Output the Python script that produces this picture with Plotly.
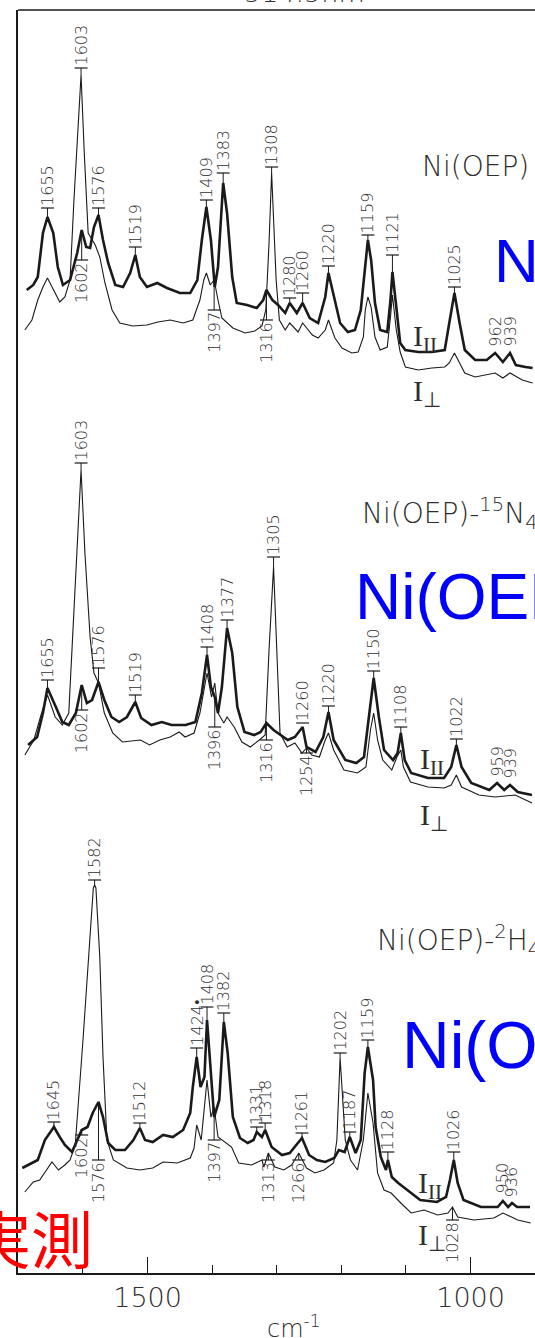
import numpy as np
import plotly.graph_objects as go

# ---------------------------------------------------------------
# Resonance Raman spectra of Ni(OEP) and two isotopomers,
# parallel (I_par, heavy pen) and perpendicular (I_perp, light pen).
# Each spectrum: (wavenumber / cm-1, intensity in arbitrary units)
# ---------------------------------------------------------------
TOP_PAR = [
    (1687, 113), (1677, 118), (1670, 126), (1662, 170), (1655, 186), (1646, 170),
    (1639, 136), (1631, 118), (1620, 123), (1609, 150), (1602, 173), (1595, 156),
    (1589, 155), (1583, 176), (1576, 188), (1569, 163), (1561, 140), (1550, 118),
    (1538, 116), (1527, 130), (1519, 148), (1512, 126), (1501, 116), (1485, 120),
    (1470, 115), (1450, 110), (1434, 110), (1423, 123), (1416, 163), (1409, 196),
    (1402, 163), (1396, 116), (1391, 136), (1383, 220), (1377, 190), (1369, 126),
    (1362, 100), (1346, 98), (1331, 95), (1321, 103), (1316, 113), (1307, 103),
    (1298, 98), (1287, 90), (1280, 100), (1269, 90), (1260, 100), (1249, 85),
    (1236, 80), (1225, 106), (1220, 130), (1210, 103), (1202, 80), (1190, 71),
    (1179, 73), (1170, 93), (1164, 133), (1159, 163), (1154, 143), (1148, 100),
    (1140, 73), (1129, 71), (1124, 103), (1121, 131), (1115, 96), (1109, 60),
    (1101, 53), (1081, 51), (1060, 51), (1040, 53), (1033, 80), (1025, 110),
    (1017, 80), (1009, 53), (993, 43), (975, 43), (962, 50), (950, 41),
    (939, 50), (930, 38), (915, 36), (904, 35),
]
TOP_PERP = [
    (1690, 73), (1679, 83), (1670, 103), (1662, 116), (1655, 125), (1646, 113),
    (1636, 101), (1628, 106), (1620, 123), (1614, 203), (1603, 328), (1598, 250),
    (1592, 170), (1581, 158), (1574, 146), (1566, 120), (1555, 93), (1543, 80),
    (1523, 77), (1501, 78), (1484, 81), (1465, 83), (1445, 80), (1430, 83),
    (1419, 103), (1413, 123), (1409, 130), (1403, 118), (1397, 123), (1391, 103),
    (1385, 85), (1368, 75), (1349, 70), (1334, 72), (1323, 77), (1317, 93),
    (1312, 160), (1308, 230), (1304, 160), (1301, 123), (1296, 83), (1287, 73),
    (1280, 80), (1267, 71), (1260, 80), (1245, 68), (1236, 65), (1225, 73),
    (1220, 83), (1210, 65), (1199, 55), (1184, 50), (1174, 51), (1166, 66),
    (1163, 93), (1159, 106), (1154, 96), (1148, 66), (1140, 53), (1129, 56),
    (1124, 86), (1121, 108), (1115, 73), (1109, 51), (1101, 36), (1081, 33),
    (1060, 35), (1040, 36), (1033, 40), (1025, 50), (1017, 40), (1009, 30),
    (993, 26), (962, 30), (950, 25), (939, 30), (920, 23), (904, 20),
]
MID_PAR = [
    (1685, 88), (1671, 96), (1662, 120), (1655, 145), (1642, 126), (1632, 111),
    (1622, 108), (1611, 120), (1602, 148), (1594, 130), (1586, 133), (1576, 151),
    (1567, 133), (1556, 116), (1544, 111), (1532, 116), (1519, 131), (1510, 115),
    (1494, 108), (1478, 111), (1463, 108), (1441, 108), (1426, 111), (1416, 140),
    (1408, 178), (1402, 146), (1396, 136), (1391, 120), (1385, 146), (1377, 205),
    (1369, 180), (1361, 126), (1350, 101), (1335, 98), (1325, 101), (1316, 110),
    (1305, 103), (1294, 98), (1283, 93), (1272, 96), (1260, 106), (1254, 86),
    (1240, 81), (1228, 96), (1220, 121), (1212, 93), (1194, 73), (1177, 70),
    (1165, 76), (1158, 113), (1150, 155), (1142, 116), (1134, 83), (1120, 73),
    (1113, 80), (1108, 100), (1102, 73), (1092, 60), (1066, 55), (1041, 55),
    (1030, 66), (1022, 88), (1014, 66), (999, 50), (971, 43), (959, 50),
    (948, 43), (939, 48), (927, 41), (905, 38),
]
MID_PERP = [
    (1690, 78), (1676, 93), (1665, 118), (1655, 138), (1643, 116), (1632, 108),
    (1622, 120), (1615, 213), (1603, 363), (1597, 280), (1589, 196), (1583, 160),
    (1576, 150), (1567, 120), (1554, 100), (1539, 91), (1511, 93), (1497, 88),
    (1481, 93), (1465, 96), (1451, 101), (1442, 96), (1428, 100), (1419, 120),
    (1408, 160), (1401, 136), (1396, 150), (1391, 120), (1382, 110), (1377, 116),
    (1366, 106), (1354, 91), (1341, 86), (1327, 93), (1318, 98), (1312, 183),
    (1305, 266), (1300, 183), (1295, 100), (1284, 86), (1272, 90), (1261, 80),
    (1254, 85), (1246, 78), (1234, 76), (1225, 93), (1220, 100), (1212, 83),
    (1196, 63), (1175, 60), (1162, 66), (1155, 103), (1150, 120), (1144, 93),
    (1136, 73), (1122, 63), (1114, 76), (1108, 83), (1104, 66), (1093, 51),
    (1066, 46), (1041, 45), (1030, 48), (1022, 58), (1014, 46), (987, 38),
    (962, 36), (931, 38), (916, 33), (905, 30),
]
BOT_PAR = [
    (1694, 105), (1679, 110), (1670, 113), (1659, 133), (1645, 146), (1636, 136),
    (1628, 128), (1617, 121), (1608, 135), (1602, 143), (1593, 146), (1585, 160),
    (1576, 171), (1569, 156), (1561, 130), (1550, 123), (1535, 123), (1522, 133),
    (1512, 145), (1504, 133), (1492, 131), (1476, 138), (1461, 136), (1445, 143),
    (1434, 160), (1430, 186), (1424, 216), (1418, 186), (1412, 196), (1408, 253),
    (1402, 200), (1399, 170), (1397, 156), (1389, 173), (1382, 251), (1376, 220),
    (1368, 156), (1357, 135), (1345, 130), (1336, 133), (1331, 141), (1323, 136),
    (1318, 143), (1308, 126), (1292, 118), (1280, 120), (1272, 126), (1261, 135),
    (1250, 118), (1238, 113), (1225, 111), (1211, 115), (1204, 123), (1195, 121),
    (1187, 136), (1178, 120), (1170, 133), (1164, 200), (1159, 226), (1151, 193),
    (1147, 146), (1139, 116), (1131, 103), (1128, 113), (1122, 96), (1112, 90),
    (1098, 83), (1078, 73), (1052, 71), (1038, 76), (1032, 93), (1026, 113),
    (1020, 90), (1011, 73), (984, 66), (958, 66), (950, 72), (942, 66),
    (936, 70), (928, 66), (908, 66),
]
BOT_PERP = [
    (1690, 81), (1677, 91), (1667, 93), (1648, 111), (1638, 103), (1628, 108),
    (1620, 113), (1612, 128), (1600, 233), (1589, 333), (1584, 385), (1582, 388),
    (1580, 385), (1574, 316), (1569, 216), (1563, 133), (1553, 113), (1532, 105),
    (1512, 103), (1492, 105), (1476, 111), (1454, 110), (1434, 115), (1428, 125),
    (1424, 148), (1417, 133), (1408, 193), (1402, 156), (1397, 166), (1391, 136),
    (1380, 131), (1370, 126), (1359, 110), (1339, 108), (1323, 113), (1320, 106),
    (1313, 120), (1303, 106), (1289, 103), (1277, 108), (1266, 120), (1254, 105),
    (1241, 100), (1227, 103), (1212, 110), (1207, 133), (1202, 215), (1194, 133),
    (1186, 113), (1175, 103), (1166, 133), (1159, 180), (1151, 150), (1144, 100),
    (1134, 83), (1123, 80), (1108, 70), (1092, 60), (1072, 63), (1051, 58),
    (1035, 60), (1028, 66), (1020, 56), (995, 53), (964, 55), (950, 60),
    (927, 53), (907, 50),
]

# vertical offset of each stacked spectrum
OFFSET = {"top": 870, "mid": 440, "bot": 0}

# peak labels: (text, wavenumber, label level, side, spectrum, tick bar)
TOP_PEAKS = [
    ("1655", 1655, 195, "up", "par", True),
    ("1603", 1603, 335, "up", "perp", True),
    ("1576", 1576, 195, "up", "par", True),
    ("1519", 1519, 156, "up", "par", True),
    ("1409", 1409, 203, "up", "par", True),
    ("1383", 1383, 230, "up", "par", True),
    ("1308", 1308, 236, "up", "perp", True),
    ("1280", 1280, 105, "up", "par", True),
    ("1260", 1260, 110, "up", "par", True),
    ("1220", 1220, 137, "up", "par", True),
    ("1159", 1159, 168, "up", "par", True),
    ("1121", 1121, 148, "up", "par", True),
    ("1025", 1025, 116, "up", "par", True),
    ("962", 962, 54, "up", "par", False),
    ("939", 939, 54, "up", "par", False),
    ("1602", 1602, 143, "down", "par", True),
    ("1397", 1397, 93, "down", "perp", True),
    ("1316", 1316, 83, "down", "par", True),
]
MID_PEAKS = [
    ("1655", 1655, 153, "up", "par", True),
    ("1603", 1603, 370, "up", "perp", True),
    ("1576", 1576, 165, "up", "par", True),
    ("1519", 1519, 138, "up", "par", True),
    ("1408", 1408, 186, "up", "par", True),
    ("1377", 1377, 213, "up", "par", True),
    ("1305", 1305, 276, "up", "perp", True),
    ("1260", 1260, 110, "up", "par", True),
    ("1220", 1220, 127, "up", "par", True),
    ("1150", 1150, 162, "up", "par", True),
    ("1108", 1108, 106, "up", "par", True),
    ("1022", 1022, 94, "up", "par", True),
    ("959", 959, 54, "up", "par", False),
    ("939", 939, 52, "up", "par", False),
    ("1602", 1602, 123, "down", "par", True),
    ("1396", 1396, 106, "down", "par", True),
    ("1316", 1316, 93, "down", "par", True),
    ("1254", 1254, 80, "down", "perp", True),
]
BOT_PEAKS = [
    ("1645", 1645, 151, "up", "par", True),
    ("1582", 1582, 393, "up", "perp", True),
    ("1512", 1512, 150, "up", "par", True),
    ("1424\u2022", 1424, 225, "up", "par", True),
    ("1408", 1408, 266, "up", "par", True),
    ("1382", 1382, 260, "up", "par", True),
    ("1331", 1331, 146, "up", "par", True),
    ("1318", 1318, 150, "up", "par", True),
    ("1261", 1261, 140, "up", "par", True),
    ("1202", 1202, 220, "up", "perp", True),
    ("1187", 1187, 141, "up", "par", True),
    ("1159", 1159, 233, "up", "par", True),
    ("1128", 1128, 121, "up", "par", True),
    ("1026", 1026, 121, "up", "par", True),
    ("950", 950, 78, "up", "par", False),
    ("936", 936, 74, "up", "par", False),
    ("1602", 1602, 138, "down", "par", True),
    ("1576", 1576, 113, "down", "par", True),
    ("1397", 1397, 133, "down", "perp", True),
    ("1313", 1313, 113, "down", "perp", True),
    ("1266", 1266, 113, "down", "perp", True),
    ("1028", 1028, 53, "down", "perp", True),
]

PANELS = [
    ("top", TOP_PAR, TOP_PERP, TOP_PEAKS),
    ("mid", MID_PAR, MID_PERP, MID_PEAKS),
    ("bot", BOT_PAR, BOT_PERP, BOT_PEAKS),
]

INK = "#1a1a1a"
TEXT = "#2e2e2e"
FONT = "DejaVu Sans"
X_RANGE = [1700.6, 900.3]
Y_RANGE = [0, 1263]

fig = go.Figure()
shapes = []
annotations = []


def level_at(spec, cm):
    xs = np.array([p[0] for p in spec], dtype=float)[::-1]
    ys = np.array([p[1] for p in spec], dtype=float)[::-1]
    return float(np.interp(cm, xs, ys))


for key, par, perp, peaks in PANELS:
    off = OFFSET[key]
    for spec, width in ((perp, 1.1), (par, 2.6)):
        fig.add_trace(go.Scatter(
            x=[p[0] for p in spec],
            y=[p[1] + off for p in spec],
            mode="lines",
            line=dict(color=INK, width=width),
            hoverinfo="skip",
        ))
    for text, cm, lvl, side, which, bar in peaks:
        spec = par if which == "par" else perp
        peak = level_at(spec, cm) + off
        y = lvl + off
        if bar:
            shapes.append(dict(type="line", xref="x", yref="y",
                               x0=cm - 10, x1=cm + 10, y0=y, y1=y,
                               line=dict(color=INK, width=1.2)))
        if side == "up" and y - peak > 4 and bar:
            shapes.append(dict(type="line", xref="x", yref="y",
                               x0=cm, x1=cm, y0=peak, y1=y,
                               line=dict(color=INK, width=1.0)))
        if side == "down" and peak - y > 2:
            shapes.append(dict(type="line", xref="x", yref="y",
                               x0=cm, x1=cm, y0=peak, y1=y,
                               line=dict(color=INK, width=1.0)))
        annotations.append(dict(
            x=cm, y=y + (1 if side == "up" else -1), xref="x", yref="y",
            text=text, textangle=-90, showarrow=False,
            xanchor="center", yanchor="bottom" if side == "up" else "top",
            font=dict(family=FONT, size=16, color=TEXT, weight=300),
            borderpad=0,
        ))

# polarisation markers (parallel / perpendicular)
POL_MARKS = [
    ("I<sub>II</sub>", 1092, 935), ("I<sub>\u22a5</sub>", 1093, 880),
    ("I<sub>II</sub>", 1081, 512), ("I<sub>\u22a5</sub>", 1081, 456),
    ("I<sub>II</sub>", 1084, 88), ("I<sub>\u22a5</sub>", 1084, 36),
]
for txt, x, y in POL_MARKS:
    annotations.append(dict(x=x, y=y, xref="x", yref="y", text=txt,
                            showarrow=False, xanchor="left", yanchor="middle",
                            font=dict(family="Liberation Serif", size=30, color=TEXT)))

# sample names
SAMPLES = [
    ("Ni(OEP)", 1078, 1107),
    ("Ni(OEP)-<sup>15</sup>N<sub>4</sub>", 1171, 760),
    ("Ni(OEP)-<sup>2</sup>H<sub>4</sub>", 1148, 333),
]
for txt, x, y in SAMPLES:
    annotations.append(dict(x=x, y=y, xref="x", yref="y", text=txt,
                            showarrow=False, xanchor="left", yanchor="middle",
                            font=dict(family=FONT, size=28, color=TEXT, weight=300)))

# overlaid captions
for txt, x, y, size in (("Ni(OEP)", 967, 1013, 62),
                        ("Ni(OEP)", 1182, 676, 64),
                        ("Ni(OEP)", 1109, 228, 66)):
    annotations.append(dict(x=x, y=y, xref="x", yref="y", text=txt,
                            showarrow=False, xanchor="left", yanchor="middle",
                            font=dict(family="Liberation Sans", size=size, color="#0000ff")))
annotations.append(dict(x=1581, y=36, xref="x", yref="y", text="実測",
                        showarrow=False, xanchor="right", yanchor="middle",
                        font=dict(family="Noto Sans CJK JP", size=62, color="#ff0000")))

# excitation line (top) and axis title
annotations.append(dict(x=0.555, y=1.0142, xref="paper", yref="paper", text="514.5nm",
                        showarrow=False, xanchor="center", yanchor="middle",
                        font=dict(family=FONT, size=27, color=TEXT, weight=300)))
annotations.append(dict(x=0.532, y=-0.0428, xref="paper", yref="paper", text="cm<sup>-1</sup>",
                        showarrow=False, xanchor="center", yanchor="middle",
                        font=dict(family=FONT, size=24, color=TEXT, weight=300)))

# top frame line
shapes.append(dict(type="line", xref="paper", yref="paper", x0=0, x1=1, y0=1, y1=1,
                   line=dict(color=INK, width=1.6)))

fig.update_layout(
    width=535, height=1338,
    margin=dict(l=18, r=0, t=10, b=65),
    paper_bgcolor="white", plot_bgcolor="white",
    showlegend=False,
    shapes=shapes, annotations=annotations,
    xaxis=dict(
        range=X_RANGE, showgrid=False, zeroline=False,
        showline=True, linecolor=INK, linewidth=1.6,
        ticks="inside", ticklen=16, tickwidth=1.4, tickcolor=INK,
        tickvals=[1500, 1000], ticktext=["1500", "1000"],
        tickfont=dict(family=FONT, size=27, color=TEXT, weight=300),
        minor=dict(tickvals=[1600, 1400, 1300, 1200, 1100], ticks="inside",
                   ticklen=8, tickwidth=1.3, tickcolor=INK),
    ),
    yaxis=dict(
        range=Y_RANGE, showgrid=False, zeroline=False,
        showline=True, linecolor=INK, linewidth=1.6,
        showticklabels=False, ticks="",
    ),
)

fig.write_html("out.html")
